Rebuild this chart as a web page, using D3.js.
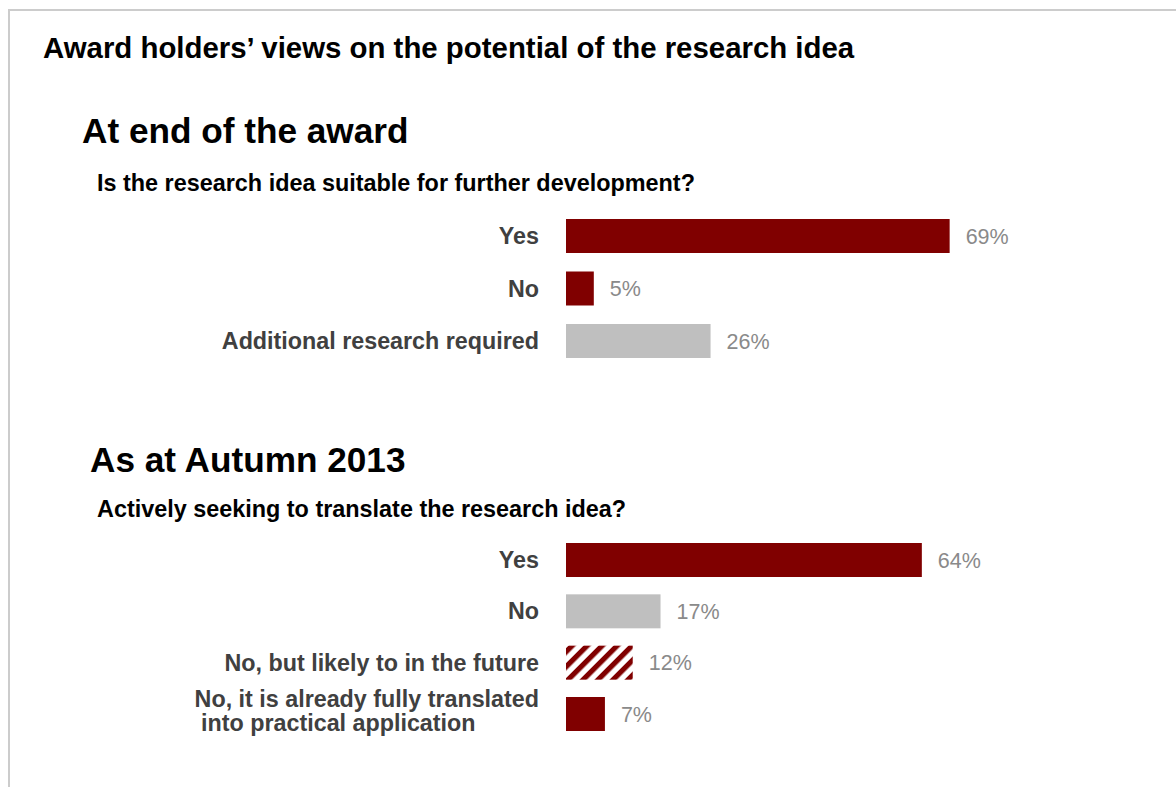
<!DOCTYPE html>
<html>
<head>
<meta charset="utf-8">
<script src="https://cdn.jsdelivr.net/npm/d3@7/dist/d3.min.js"></script>
<style>
  html, body { margin: 0; padding: 0; background: #fff; }
  svg { display: block; font-family: "Liberation Sans", Arial, Helvetica, sans-serif; }
</style>
</head>
<body>
<svg id="chart" width="1176" height="787"></svg>
<script>
// Survey answers, end of award
const awardCategories = ["Yes", "No", "Additional research required"];
const awardValues = [69, 5, 26];
const awardFills = ["solid", "solid", "grey"];

// Survey answers, Autumn 2013
const autumnCategories = ["Yes", "No", "No, but likely to in the future", "No, it is already fully translated|into practical application"];
const autumnValues = [64, 17, 12, 7];
const autumnFills = ["solid", "grey", "hatch", "solid"];

const titleText = "Award holders\u2019 views on the potential of the research idea";
const sectionTitles = ["At end of the award", "As at Autumn 2013"];
const questionTexts = [
  "Is the research idea suitable for further development?",
  "Actively seeking to translate the research idea?"
];

const MAROON = "#800000";
const GREY = "#bfbfbf";
const LABEL = "#404040";
const VALUE = "#8a8a8a";

const svg = d3.select("#chart");

// hatched fill for the "likely in future" bar
const defs = svg.append("defs");
const pat = defs.append("pattern")
  .attr("id", "hatch")
  .attr("patternUnits", "userSpaceOnUse")
  .attr("width", 10.6).attr("height", 10.6)
  .attr("patternTransform", "rotate(45)");
pat.append("rect").attr("width", 10.6).attr("height", 10.6).attr("fill", "#fff");
pat.append("rect").attr("width", 5.2).attr("height", 10.6).attr("fill", MAROON);

const fillOf = f => f === "grey" ? GREY : f === "hatch" ? "url(#hatch)" : MAROON;

// frame lines (top and left)
svg.append("path")
  .attr("d", "M9,787V10H1176")
  .attr("fill", "none")
  .attr("stroke", "#cccccc")
  .attr("stroke-width", 2);

svg.append("text")
  .attr("x", 43).attr("y", 58)
  .attr("font-size", 29.4).attr("font-weight", "bold").attr("fill", "#000")
  .text(titleText);

// shared horizontal scale (percent)
const x = d3.scaleLinear().domain([0, 100]).range([566, 1122]);
const barH = 34;
const labelX = 539;
const labelSize = 23.3;

function section(opts) {
  const g = svg.append("g");
  g.append("text")
    .attr("x", opts.titleX).attr("y", opts.titleY)
    .attr("font-size", 35.2).attr("font-weight", "bold").attr("fill", "#000")
    .text(opts.title);
  g.append("text")
    .attr("x", 97).attr("y", opts.questionY)
    .attr("font-size", 23.4).attr("font-weight", "bold").attr("fill", "#000")
    .text(opts.question);

  const y = d3.scalePoint().domain(opts.categories).range(opts.yRange);
  const rows = opts.categories.map((c, i) => ({ c, v: opts.values[i], f: opts.fills[i] }));

  g.selectAll("rect.bar").data(rows).join("rect")
    .attr("class", "bar")
    .attr("x", x(0))
    .attr("y", d => y(d.c) - barH / 2)
    .attr("width", d => x(d.v) - x(0))
    .attr("height", barH)
    .attr("fill", d => fillOf(d.f));

  g.selectAll("text.val").data(rows).join("text")
    .attr("class", "val")
    .attr("x", d => x(d.v) + 16)
    .attr("y", d => y(d.c))
    .attr("dy", "0.35em")
    .attr("font-size", 21.5).attr("fill", VALUE)
    .text(d => d.v + "%");

  rows.forEach(d => {
    const lines = d.c.split("|");
    if (lines.length === 1) {
      g.append("text")
        .attr("x", labelX).attr("y", y(d.c)).attr("dy", "0.35em")
        .attr("text-anchor", "end")
        .attr("font-size", labelSize).attr("font-weight", "bold").attr("fill", LABEL)
        .text(d.c);
    } else {
      const t1 = g.append("text")
        .attr("x", labelX).attr("y", y(d.c) - 7)
        .attr("text-anchor", "end")
        .attr("font-size", labelSize).attr("font-weight", "bold").attr("fill", LABEL)
        .text(lines[0]);
      const left = labelX - t1.node().getComputedTextLength();
      g.append("text")
        .attr("x", left).attr("y", y(d.c) + 17)
        .attr("xml:space", "preserve")
        .style("white-space", "pre")
        .attr("font-size", labelSize).attr("font-weight", "bold").attr("fill", LABEL)
        .text(" " + lines[1]);
    }
  });
}

section({
  title: sectionTitles[0], titleX: 82, titleY: 143,
  question: questionTexts[0], questionY: 191,
  categories: awardCategories, values: awardValues, fills: awardFills,
  yRange: [236, 341]
});

section({
  title: sectionTitles[1], titleX: 90, titleY: 472,
  question: questionTexts[1], questionY: 517,
  categories: autumnCategories, values: autumnValues, fills: autumnFills,
  yRange: [560, 714]
});
</script>
</body>
</html>
